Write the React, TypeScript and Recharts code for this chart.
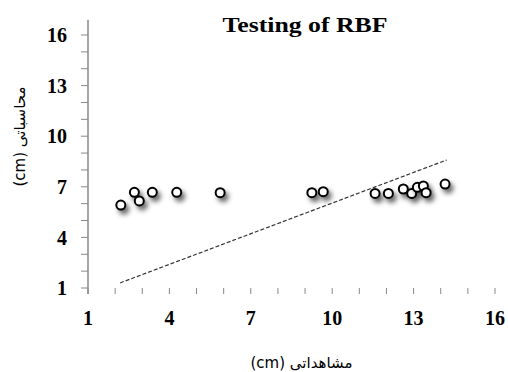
import React from "react";
import {
  ScatterChart,
  Scatter,
  XAxis,
  YAxis,
  ReferenceLine,
} from "recharts";

const observed = [2.21, 2.71, 2.89, 3.37, 4.27, 5.87, 9.25, 9.67, 11.58, 12.07, 12.62, 12.93, 13.14, 13.36, 13.46, 14.16];
const computed = [5.92, 6.67, 6.16, 6.67, 6.67, 6.65, 6.65, 6.71, 6.61, 6.61, 6.87, 6.61, 6.97, 7.05, 6.65, 7.16];

// dashed trend line end points
const trendX = [2.18, 14.22];
const trendY = [1.3, 8.59];

const axisTicks = [1, 2, 3, 4, 5, 6, 7, 8, 9, 10, 11, 12, 13, 14, 15, 16];
const labelledTicks = [1, 4, 7, 10, 13, 16];

const title = "Testing of RBF";
const xLabel = "(cm) مشاهداتی";
const yLabel = "(cm) محاسباتی";

const points = observed.map((x, i) => ({ x, y: computed[i] }));

const tickFont = {
  fontFamily: "'Liberation Serif', serif",
  fontSize: 20,
  fontWeight: 700,
  fill: "#000",
};

const fmt = (v: number) => (labelledTicks.includes(v) ? String(v) : "");

const Dot = (props: any) => {
  const { cx, cy } = props;
  if (cx == null || cy == null) return null;
  return (
    <circle
      cx={cx}
      cy={cy}
      r={4.5}
      fill="#fff"
      stroke="#000"
      strokeWidth={2}
      style={{ filter: "drop-shadow(3px 4px 2.5px rgba(0,0,0,0.6))" }}
    />
  );
};

const YTitle = (props: any) => {
  const vb = props.viewBox;
  const x = vb.x + 20;
  const y = vb.y + vb.height / 2 - 25;
  return (
    <text
      x={x}
      y={y}
      transform={`rotate(-90, ${x}, ${y})`}
      textAnchor="middle"
      dominantBaseline="central"
      fontFamily="'DejaVu Sans', sans-serif"
      fontSize={15}
      fill="#000"
    >
      {yLabel}
    </text>
  );
};

export default function App() {
  return (
    <div style={{ position: "absolute", left: 0, top: 0, width: 508, height: 372, background: "#fff" }}>
      <ScatterChart
        width={508}
        height={372}
        margin={{ top: 35, right: 13, bottom: 0, left: 0 }}
      >
        <XAxis
          type="number"
          dataKey="x"
          domain={[1, 16]}
          ticks={axisTicks}
          tickFormatter={fmt}
          interval={0}
          axisLine={false}
          tickLine={{ stroke: "#888" }}
          tickSize={6}
          tickMargin={17}
          tick={tickFont}
          height={84}
          label={{
            value: xLabel,
            position: "insideBottom",
            offset: 4,
            dx: 10,
            style: { fontFamily: "'DejaVu Sans', sans-serif", fontSize: 15, fill: "#000" },
          }}
        />
        <YAxis
          type="number"
          dataKey="y"
          domain={[1, 16]}
          ticks={axisTicks}
          tickFormatter={fmt}
          interval={0}
          axisLine={false}
          tickLine={{ stroke: "#888" }}
          tickSize={7}
          tickMargin={14}
          tick={tickFont}
          width={88}
          label={<YTitle />}
        />
        <ReferenceLine
          segment={[{ x: 1, y: 0.64 }, { x: 1, y: 16.9 }]}
          stroke="#888"
          strokeWidth={1.5}
          ifOverflow="visible"
        />
        <ReferenceLine
          segment={[{ x: trendX[0], y: trendY[0] }, { x: trendX[1], y: trendY[1] }]}
          stroke="#333"
          strokeWidth={1.2}
          strokeDasharray="4 2"
          ifOverflow="visible"
        />
        <Scatter data={points} shape={<Dot />} isAnimationActive={false} />
      </ScatterChart>
      <svg
        width={508}
        height={40}
        style={{ position: "absolute", left: 0, top: 0, pointerEvents: "none" }}
      >
        <text
          x={305}
          y={25}
          textAnchor="middle"
          dominantBaseline="central"
          fontFamily="'Liberation Serif', serif"
          fontSize={20}
          fontWeight={700}
          textLength={165}
          lengthAdjust="spacingAndGlyphs"
        >
          {title}
        </text>
      </svg>
    </div>
  );
}
